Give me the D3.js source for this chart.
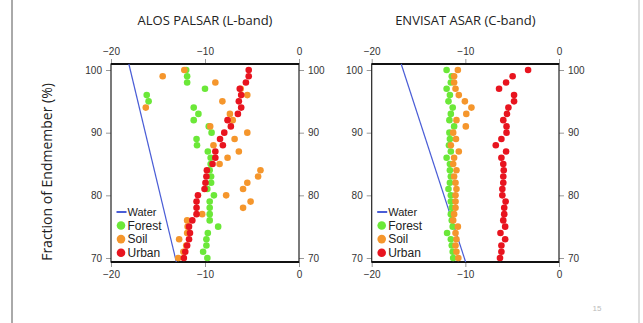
<!DOCTYPE html>
<html>
<head>
<meta charset="utf-8">
<script src="https://cdn.jsdelivr.net/npm/d3@7"></script>
<style>
  body { margin: 0; background: #fff; }
  .tick text { font-family: "Liberation Sans", Arial, sans-serif; font-size: 10px; fill: #333; }
  .tick line { stroke: #999; }
</style>
</head>
<body>
<svg id="chart" width="643" height="323"></svg>
<script>
// Fraction of endmember (%) for each sample row
const fraction = [100, 99, 98, 97, 96, 95, 94, 93, 92, 91, 90, 89, 88, 87, 86, 85,
                  84, 83, 82, 81, 80, 79, 78, 77, 76, 75, 74, 73, 72, 71, 70];

// ALOS PALSAR (L-band) backscatter, dB
const forestL = [-12.0, -11.9, -11.9, -10.0, -16.2, -16.0, -11.2, -10.7, -11.2, -9.6, -9.3, -10.9, -10.85, -9.7, -9.4, -9.4,
                 -9.5, -9.35, -9.35, -9.75, -9.05, -9.5, -9.5, -9.5, -9.5, -8.6, -9.7, -9.85, -9.85, -10.2, -9.75];
const soilL = [-12.2, -14.5, -8.9, -6.2, -5.5, -8.15, -16.3, -7.35, -7.05, -9.45, -5.5, -6.85, -9.1, -6.4, -7.6, -8.45,
               -4.1, -4.35, -5.5, -5.95, -7.75, -5.15, -5.95, -10.3, -11.9, -11.85, -11.9, -12.75, -12.0, -12.3, -12.85];
const urbanL = [-5.35, -5.35, -5.65, -6.3, -6.15, -6.4, -6.15, -6.5, -7.6, -7.25, -7.95, -8.4, -8.1, -8.9, -8.9, -9.2,
                -9.8, -9.85, -9.95, -10.05, -10.75, -10.9, -10.9, -10.9, -11.35, -11.7, -11.6, -11.7, -11.9, -12.1, -12.25];

// ENVISAT ASAR (C-band) backscatter, dB
const forestC = [-12.0, -11.45, -11.55, -12.0, -11.65, -11.8, -11.35, -11.55, -11.7, -11.2, -11.7, -11.65, -11.75, -11.55, -12.0, -11.65,
                 -11.65, -11.55, -11.65, -11.8, -11.55, -11.55, -11.45, -11.55, -11.45, -11.35, -11.95, -11.55, -11.45, -11.35, -11.3];
const soilC = [-10.8, -11.2, -11.2, -11.05, -10.7, -10.05, -9.35, -9.9, -10.95, -9.95, -11.3, -11.0, -11.55, -10.7, -11.2, -11.3,
               -10.95, -11.2, -11.05, -10.95, -11.05, -11.05, -11.05, -11.2, -11.3, -10.8, -11.05, -10.95, -11.05, -10.95, -10.75];
const urbanC = [-3.3, -4.95, -5.65, -6.4, -4.8, -4.8, -5.4, -5.55, -5.95, -5.6, -5.6, -6.15, -6.75, -5.65, -6.15, -5.95,
                -5.9, -5.95, -5.95, -6.05, -6.05, -5.7, -5.85, -5.85, -5.95, -5.75, -6.25, -5.75, -6.15, -6.15, -6.3];

// Water reference line (two ends)
const waterFraction = [100.96, 69.36];
const waterL = [-18.1, -13.05];
const waterC = [-16.85, -9.97];

const xTicks = [-20, -10, 0];
const yTicks = [70, 80, 90, 100];
const classes = ['Forest', 'Soil', 'Urban'];
const colours = { Water: '#4a5dd6', Forest: '#6be838', Soil: '#f5962c', Urban: '#e8141f' };

const svg = d3.select('#chart');
const plotTop = 64, plotBottom = 262;

// Slide frame
svg.append('line').attr('x1', 12).attr('x2', 12).attr('y1', 0).attr('y2', 323)
    .attr('stroke', '#555').attr('stroke-width', 1);
svg.append('line').attr('x1', 639).attr('x2', 639).attr('y1', 0).attr('y2', 323)
    .attr('stroke', '#bbb').attr('stroke-width', 1);
svg.append('text').attr('x', 597).attr('y', 311).attr('text-anchor', 'middle')
    .style('font-family', 'Liberation Sans, Arial, sans-serif').style('font-size', '8px')
    .attr('fill', '#bbb').text('15');

svg.append('text')
    .attr('transform', `translate(52, 172) rotate(-90)`)
    .attr('text-anchor', 'middle')
    .style('font-family', 'Open Sans, sans-serif').style('font-size', '14px')
    .attr('fill', '#222')
    .text('Fraction of Endmember (%)');

const panels = [
    { title: 'ALOS PALSAR (L-band)', left: 111, right: 299, forest: forestL, soil: soilL, urban: urbanL, water: waterL },
    { title: 'ENVISAT ASAR (C-band)', left: 371.7, right: 559, forest: forestC, soil: soilC, urban: urbanC, water: waterC },
];

const y = d3.scaleLinear().domain([waterFraction[1], waterFraction[0]]).range([plotBottom, plotTop]);

panels.forEach((p) => {
    const x = d3.scaleLinear().domain([-20, 0]).range([p.left, p.right]);
    const g = svg.append('g');

    g.append('text')
        .attr('x', (p.left + p.right) / 2).attr('y', 25)
        .attr('text-anchor', 'middle')
        .style('font-family', 'Open Sans, sans-serif').style('font-size', '13px')
        .attr('fill', '#222')
        .text(p.title);

    // Axes
    const axes = [
        [d3.axisTop(x).tickValues(xTicks).tickFormat(d3.format('d')), `translate(0, ${plotTop})`],
        [d3.axisBottom(x).tickValues(xTicks).tickFormat(d3.format('d')), `translate(0, ${plotBottom})`],
        [d3.axisLeft(y).tickValues(yTicks), `translate(${p.left}, 0)`],
        [d3.axisRight(y).tickValues(yTicks), `translate(${p.right}, 0)`],
    ];
    axes.forEach(([axis, tr]) => {
        const a = g.append('g').attr('transform', tr)
            .call(axis.tickSizeOuter(0).tickSizeInner(5).tickPadding(4));
        a.select('.domain').remove();
    });

    // Frame
    g.append('rect')
        .attr('x', p.left).attr('y', plotTop)
        .attr('width', p.right - p.left).attr('height', plotBottom - plotTop)
        .attr('fill', 'none').attr('stroke', '#222').attr('stroke-width', 1.2);
    [plotTop, plotBottom].forEach((yy) => {
        g.append('line').attr('x1', p.left).attr('x2', p.right).attr('y1', yy).attr('y2', yy)
            .attr('stroke', '#111').attr('stroke-width', 2);
    });

    // Water line
    g.append('path')
        .datum(d3.zip(p.water, waterFraction))
        .attr('fill', 'none').attr('stroke', colours.Water).attr('stroke-width', 1.2)
        .attr('d', d3.line().x((d) => x(d[0])).y((d) => y(d[1])));

    // Points
    const series = [['Forest', p.forest], ['Soil', p.soil], ['Urban', p.urban]];
    series.forEach(([name, vals]) => {
        g.selectAll(null)
            .data(vals.map((v, i) => ({ x: v, y: fraction[i] })))
            .enter()
            .append('circle')
            .attr('cx', (d) => x(d.x))
            .attr('cy', (d) => y(d.y))
            .attr('r', 3.3)
            .attr('fill', colours[name]);
    });

    // Legend
    const lx = p.left;
    g.append('line').attr('x1', lx + 5.5).attr('x2', lx + 15.5).attr('y1', 212).attr('y2', 212)
        .attr('stroke', colours.Water).attr('stroke-width', 2);
    g.append('text').attr('x', lx + 16.5).attr('y', 215.8)
        .style('font-family', 'Liberation Sans, Arial, sans-serif').style('font-size', '11px')
        .attr('fill', '#222').text('Water');
    classes.forEach((c, i) => {
        const cy = 225.5 + i * 13.6;
        g.append('circle').attr('cx', lx + 10).attr('cy', cy).attr('r', 4.3).attr('fill', colours[c]);
        g.append('text').attr('x', lx + 16.5).attr('y', cy + 4.2)
            .style('font-family', 'Liberation Sans, Arial, sans-serif').style('font-size', '12px')
            .attr('fill', '#222').text(c);
    });
});
</script>
</body>
</html>
